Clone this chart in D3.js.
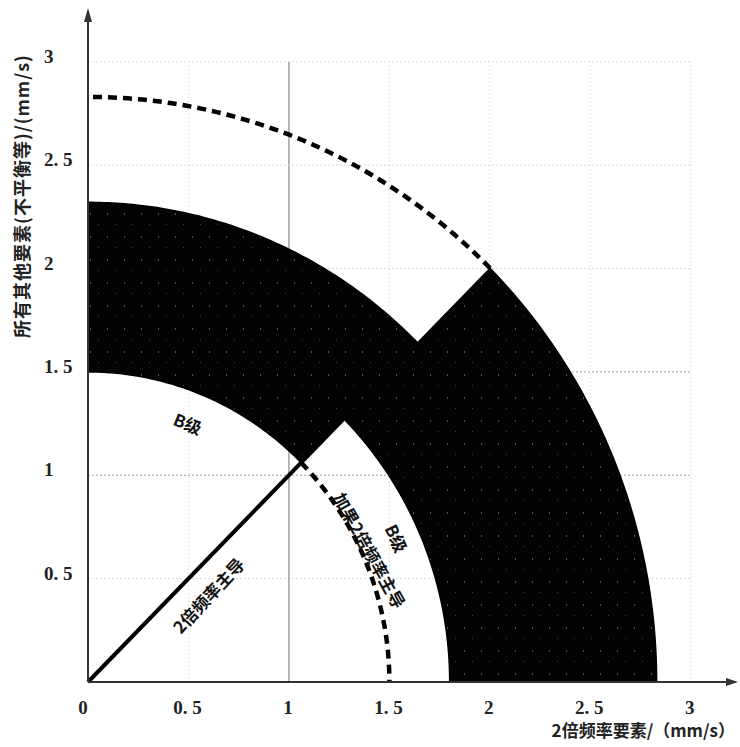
<!DOCTYPE html>
<html>
<head>
<meta charset="utf-8">
<script src="https://cdn.jsdelivr.net/npm/d3@7/dist/d3.min.js"></script>
<style>
  html, body { margin: 0; padding: 0; background: #fff; }
  svg { display: block; }
</style>
</head>
<body>
<svg id="chart" width="740" height="747"></svg>
<script>
// ---- data (mm/s) ----
const xTickValues = [0, 0.5, 1, 1.5, 2, 2.5, 3];
const xTickLabels = ["0", "0. 5", "1", "1. 5", "2", "2. 5", "3"];
const yTickValues = [0.5, 1, 1.5, 2, 2.5, 3];
const yTickLabels = ["0. 5", "1", "1. 5", "2", "2. 5", "3"];
const gridValues = [0.5, 1, 1.5, 2, 2.5, 3];
// B zone band: [inner radius, outer radius] for the upper sector (45°–90°) and lower sector (0°–45°)
const bandUpper = [1.5, 2.32];
const bandLower = [1.8, 2.83];
const sectorAngles = [0, 45, 90]; // degrees
const dashedOuterRadius = 2.83;   // 45°–90°
const dashedInnerRadius = 1.5;    // 0°–45°
const diagonalEnd = 1.27;         // 2x-dominant boundary line end (x=y)
const xTitle = "2倍频率要素/（mm/s）";
const yTitle = "所有其他要素(不平衡等)/(mm/s)";

// ---- scales ----
const x = d3.scaleLinear().domain([0, 3.23]).range([88, 737]);
const y = d3.scaleLinear().domain([0, 3.26]).range([682, 8]);
const svg = d3.select("#chart");

const rad = d => d * Math.PI / 180;
function arcPts(r, a0, a1, n = 90) {
  const pts = [];
  for (let i = 0; i <= n; i++) {
    const a = rad(a0 + (a1 - a0) * i / n);
    pts.push([r * Math.cos(a), r * Math.sin(a)]);
  }
  return pts;
}
const line = d3.line().x(d => x(d[0])).y(d => y(d[1]));

// ---- grid ----
const grid = svg.append("g");
gridValues.forEach(v => {
  grid.append("line")
    .attr("x1", x(v)).attr("x2", x(v)).attr("y1", y(0)).attr("y2", y(3))
    .attr("stroke", v === 1 ? "#8a8a8a" : "#cfcfcf")
    .attr("stroke-width", v === 1 ? 1.2 : 1)
    .attr("stroke-dasharray", v === 1 ? null : "1,3");
  grid.append("line")
    .attr("x1", x(0)).attr("x2", x(3)).attr("y1", y(v)).attr("y2", y(v))
    .attr("stroke", (v === 1 || v === 1.5) ? "#a0a0a0" : "#d8d8d8")
    .attr("stroke-width", 1)
    .attr("stroke-dasharray", "2,2");
});

// ---- band pattern (print speckle) ----
const defs = svg.append("defs");
const pat = defs.append("pattern").attr("id", "speck")
  .attr("patternUnits", "userSpaceOnUse").attr("width", 17).attr("height", 23);
pat.append("rect").attr("width", 17).attr("height", 23).attr("fill", "#030303");
pat.append("rect").attr("x", 5).attr("y", 6).attr("width", 1).attr("height", 2).attr("fill", "#555");
pat.append("rect").attr("x", 13).attr("y", 17).attr("width", 1).attr("height", 1).attr("fill", "#444");

// ---- B band ----
const outline = [
  ...arcPts(bandUpper[1], sectorAngles[2], sectorAngles[1]),
  ...arcPts(bandLower[1], sectorAngles[1], sectorAngles[0]),
  ...arcPts(bandLower[0], sectorAngles[0], sectorAngles[1]),
  ...arcPts(bandUpper[0], sectorAngles[1], sectorAngles[2])
];
svg.append("path")
  .attr("d", line(outline) + "Z")
  .attr("fill", "url(#speck)")
  .attr("stroke", "#000").attr("stroke-width", 1.5);

// ---- dashed arcs ----
svg.append("path")
  .attr("d", line(arcPts(dashedOuterRadius, sectorAngles[1], sectorAngles[2])))
  .attr("fill", "none").attr("stroke", "#000").attr("stroke-width", 4.5)
  .attr("stroke-dasharray", "9,6");
svg.append("path")
  .attr("d", line(arcPts(dashedInnerRadius, sectorAngles[1], sectorAngles[0])))
  .attr("fill", "none").attr("stroke", "#000").attr("stroke-width", 4.5)
  .attr("stroke-dasharray", "9,6");

// ---- diagonal ----
svg.append("line")
  .attr("x1", x(0)).attr("y1", y(0)).attr("x2", x(diagonalEnd)).attr("y2", y(diagonalEnd))
  .attr("stroke", "#000").attr("stroke-width", 4);

// ---- axes ----
const axisColor = "#333";
svg.append("line").attr("x1", x(0)).attr("y1", y(0)).attr("x2", 730).attr("y2", y(0))
  .attr("stroke", axisColor).attr("stroke-width", 2);
svg.append("path").attr("d", `M738,${y(0)} L726,${y(0) - 4} L726,${y(0) + 4} Z`).attr("fill", axisColor);
svg.append("line").attr("x1", x(0)).attr("y1", y(0)).attr("x2", x(0)).attr("y2", 18)
  .attr("stroke", axisColor).attr("stroke-width", 2);
svg.append("path").attr("d", `M${x(0)},8 L${x(0) - 4},22 L${x(0) + 4},22 Z`).attr("fill", axisColor);

const tickFont = "'Liberation Serif', 'DejaVu Serif', serif";
svg.append("g").selectAll("text").data(xTickValues).join("text")
  .attr("x", (d, i) => x(d) - (i === 0 ? 5 : 1))
  .attr("y", 714)
  .attr("text-anchor", "middle")
  .attr("font-family", tickFont).attr("font-weight", "bold").attr("font-size", 19)
  .attr("fill", "#222")
  .text((d, i) => xTickLabels[i]);
svg.append("g").selectAll("text").data(yTickValues).join("text")
  .attr("x", 44)
  .attr("y", d => y(d) + 1)
  .attr("text-anchor", "start")
  .attr("font-family", tickFont).attr("font-weight", "bold").attr("font-size", 19)
  .attr("fill", "#222")
  .text((d, i) => yTickLabels[i]);

const cjk = "'Noto Sans CJK SC', 'Noto Sans', sans-serif";
svg.append("text").attr("x", 735).attr("y", 737)
  .attr("text-anchor", "end")
  .attr("font-family", cjk).attr("font-weight", "bold").attr("font-size", 17)
  .attr("fill", "#222").text(xTitle);
svg.append("text")
  .attr("transform", `translate(29,196) rotate(-90)`)
  .attr("text-anchor", "middle")
  .attr("font-family", cjk).attr("font-weight", "bold").attr("font-size", 18)
  .attr("letter-spacing", 1)
  .attr("fill", "#222").text(yTitle);

// ---- annotations ----
function note(txt, cx, cy, angle, size) {
  svg.append("text")
    .attr("transform", `translate(${cx},${cy}) rotate(${angle})`)
    .attr("text-anchor", "middle").attr("dominant-baseline", "central")
    .attr("font-family", cjk).attr("font-weight", "bold").attr("font-size", size)
    .attr("fill", "#111").text(txt);
}
note("B级", 188, 423, 22, 17);
note("B级", 397, 538, 65, 17);
note("加果2倍频率主导", 370, 550, 61, 17);
note("2倍频率主导", 208, 595, -47, 17);
</script>
</body>
</html>
